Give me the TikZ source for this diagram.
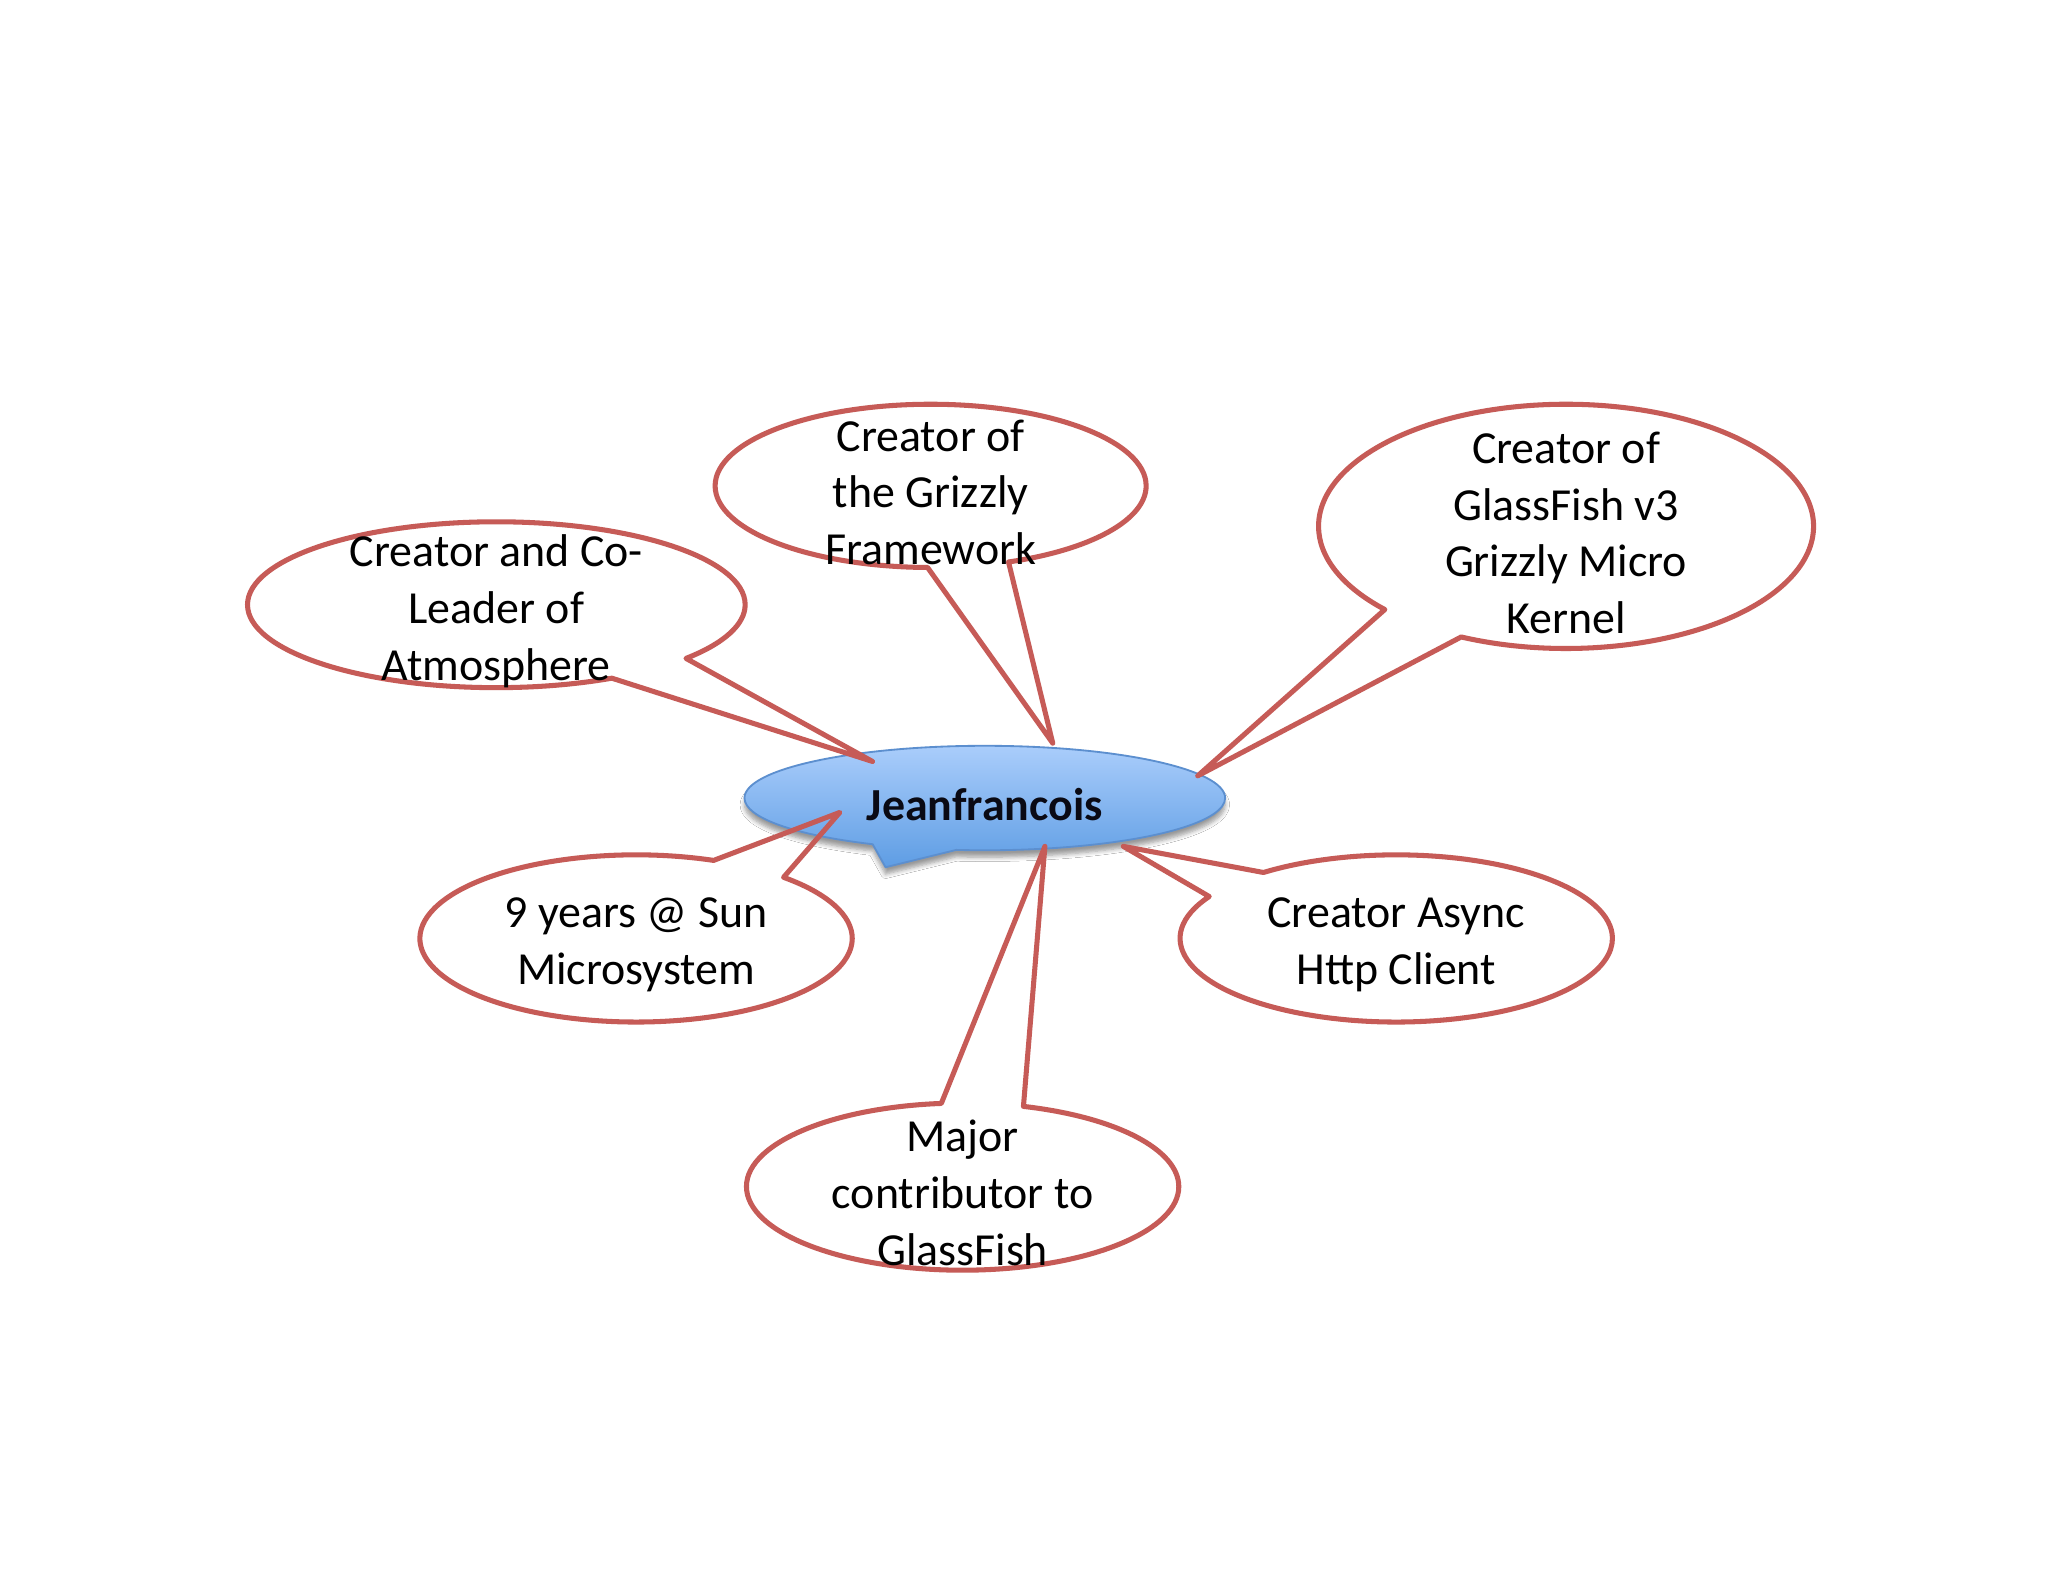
\documentclass[tikz,border=0pt]{standalone}
\usepackage{fontspec}
\setmainfont{Carlito}
\usepackage{tikz}
\usetikzlibrary{shapes.callouts,shadows.blur}
\definecolor{mmRed}{HTML}{C65B57}
\definecolor{mmBlueLine}{HTML}{5C8FCF}
\definecolor{mmBlueTop}{HTML}{AACDFB}
\definecolor{mmBlueBottom}{HTML}{5E9DE4}
\definecolor{mmInk}{HTML}{0A0A14}
\tikzset{
  mm diagram/.style={font=\fontsize{20}{24.7}\selectfont, text=black,
    line join=round},
  mm bubble/.style={ellipse callout, draw=mmRed, line width=2.2pt,
    inner sep=0pt, outer sep=0pt, callout pointer arc=22},
  mm hub/.style={ellipse callout, draw=mmBlueLine, line width=0.8pt,
    inner sep=0pt, top color=mmBlueTop, bottom color=mmBlueBottom,
    blur shadow={shadow xshift=0pt, shadow yshift=-3pt, shadow blur steps=6}},
  mm text/.style={align=center, inner sep=0pt, yshift=-2.8pt},
  mm name/.style={mm text, font=\fontsize{20}{24.7}\selectfont\bfseries, text=mmInk}
}

\begin{document}
\begin{tikzpicture}[mm diagram]
\fill[white] (0,0) rectangle (31.36,24.22);
\useasboundingbox (0,0) rectangle (31.36,24.22);

% pointer tips
\coordinate (jf tip) at (13.56,10.94);
\coordinate (atmo tip) at (13.36,12.56);
\coordinate (grizzly tip) at (16.12,12.84);
\coordinate (kernel tip) at (18.34,12.34);
\coordinate (sun tip) at (12.86,11.78);
\coordinate (glassfish tip) at (16.00,11.26);
\coordinate (async tip) at (17.20,11.26);

% centre
\node[mm hub, minimum width=7.36cm, minimum height=1.60cm,
  callout pointer arc=21, callout absolute pointer={(jf tip)}] (jf) at (15.08,12.00) {};

% bubbles
\node[mm bubble, minimum width=7.62cm, minimum height=2.54cm,
  callout absolute pointer={(atmo tip)}] (atmo) at (7.60,14.96) {};
\node[mm bubble, minimum width=6.60cm, minimum height=2.50cm,
  callout absolute pointer={(grizzly tip)}] (grizzly) at (14.25,16.78) {};
\node[mm bubble, minimum width=7.58cm, minimum height=3.74cm,
  callout absolute pointer={(kernel tip)}] (kernel) at (23.98,16.16) {};
\node[mm bubble, minimum width=6.62cm, minimum height=2.56cm,
  callout absolute pointer={(sun tip)}] (sun) at (9.74,9.85) {};
\node[mm bubble, minimum width=6.62cm, minimum height=2.56cm,
  callout absolute pointer={(async tip)}] (async) at (21.38,9.85) {};
\node[mm bubble, minimum width=6.62cm, minimum height=2.56cm,
  callout absolute pointer={(glassfish tip)}] (glassfish) at (14.74,6.05) {};

% texts
\node[mm name] (jf text) at (jf.center) {Jeanfrancois};
\node[mm text] (atmo text) at (atmo.center) {Creator and Co-\\Leader of\\Atmosphere};
\node[mm text] (grizzly text) at (grizzly.center) {Creator of\\the Grizzly\\Framework};
\node[mm text] (kernel text) at (kernel.center) {Creator of\\GlassFish v3\\Grizzly Micro\\Kernel};
\node[mm text] (sun text) at (sun.center) {9 years @ Sun\\Microsystem};
\node[mm text] (async text) at (async.center) {Creator Async\\Http Client};
\node[mm text] (glassfish text) at (glassfish.center) {Major\\contributor to\\GlassFish};
\end{tikzpicture}
\end{document}
